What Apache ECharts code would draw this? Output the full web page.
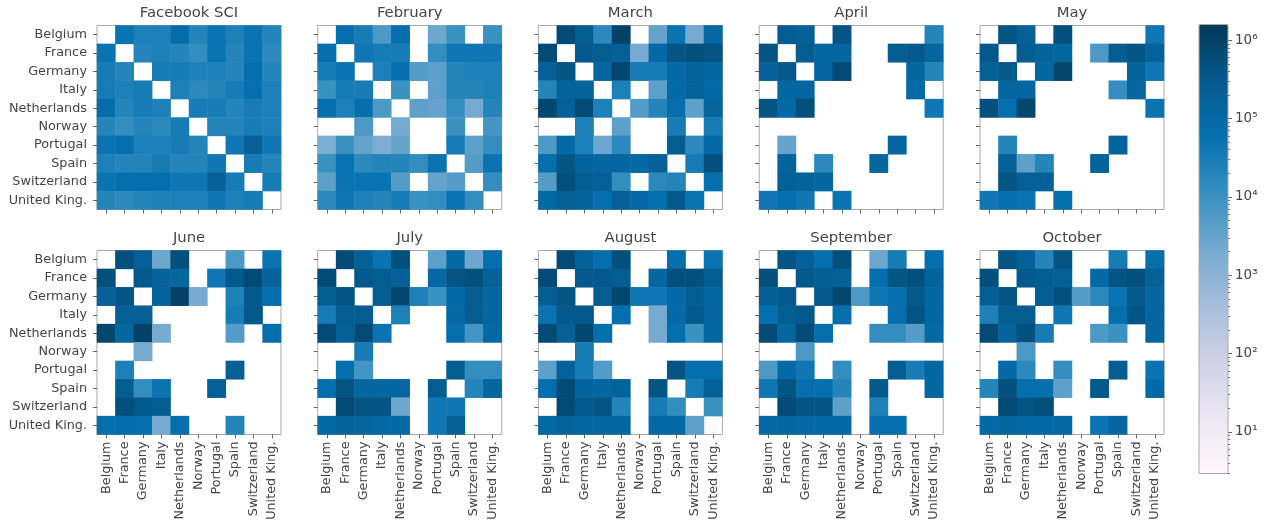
<!DOCTYPE html>
<html>
<head>
<meta charset="utf-8">
<style>html,body{margin:0;padding:0;background:#fff}#c{width:1270px;height:527px}</style>
<script src="https://cdn.jsdelivr.net/npm/echarts@6/dist/echarts.min.js"></script>
</head>
<body>
<div id="c"></div>
<script>
// All cell values are log10 of the count; _ = empty cell
const _ = null;
const countries = ['Belgium','France','Germany','Italy','Netherlands','Norway','Portugal','Spain','Switzerland','United King.'];
const panelTitles = ['Facebook SCI','February','March','April','May','June','July','August','September','October'];

const sci = [
[_,4.7,4.4,4.4,4.9,4.3,4.7,4.4,4.7,4.3],
[4.7,_,4.3,4.4,4.3,4.1,4.7,4.3,4.7,4.2],
[4.5,4.3,_,4.5,4.5,4.4,4.4,4.3,4.8,4.3],
[4.5,4.4,4.5,_,4.4,4.2,4.3,4.5,4.8,4.4],
[4.9,4.3,4.5,4.4,_,4.5,4.5,4.3,4.5,4.4],
[4.3,4.1,4.3,4.2,4.5,_,4.3,4.3,4.5,4.4],
[4.7,4.8,4.4,4.4,4.5,4.3,_,4.6,5.3,4.6],
[4.4,4.3,4.3,4.5,4.3,4.3,4.6,_,4.5,4.3],
[4.7,4.8,4.8,4.8,4.6,4.6,5.3,4.5,_,4.5],
[4.3,4.2,4.3,4.4,4.4,4.4,4.6,4.4,4.5,_]];
const february = [
[_,4.8,4.5,3.8,4.8,_,3.4,4.0,_,4.0],
[4.8,_,4.6,4.5,4.5,_,4.1,4.6,4.6,4.6],
[4.5,4.7,_,4.4,4.8,3.7,3.6,4.3,4.4,4.4],
[4.0,4.5,4.5,_,4.0,_,3.6,4.3,4.3,4.4],
[4.8,4.4,4.8,3.8,_,3.6,3.5,4.1,3.3,4.3],
[_,_,3.8,_,3.3,_,_,4.0,_,3.9],
[3.2,4.0,3.5,3.2,3.5,_,_,4.5,3.6,4.1],
[4.0,4.7,4.2,4.3,4.3,4.1,4.7,_,3.7,4.7],
[3.6,4.7,4.7,4.7,3.7,_,3.5,3.7,_,4.1],
[4.2,4.6,4.4,4.3,4.5,4.0,4.1,4.7,4.1,_]];
const march = [
[_,5.8,5.4,4.2,6.0,_,3.5,4.7,3.3,5.0],
[5.8,_,5.5,5.4,5.3,3.3,5.0,5.6,5.7,5.6],
[5.3,5.6,_,5.1,5.9,4.5,4.5,5.0,5.2,5.1],
[4.3,5.2,5.2,_,4.4,_,3.6,5.0,5.2,5.0],
[5.9,5.3,5.8,4.4,_,3.7,4.3,4.8,3.6,5.1],
[_,_,4.4,_,3.6,_,_,4.5,_,4.5],
[3.8,5.0,4.4,3.4,4.2,_,_,5.4,4.2,5.0],
[4.8,5.6,5.2,5.1,5.1,5.0,5.3,_,4.5,5.7],
[3.7,5.7,5.4,5.3,4.1,_,4.2,4.3,_,4.8],
[5.0,5.3,5.2,4.8,5.3,5.0,4.8,5.5,4.7,_]];
const april = [
[_,5.4,5.3,_,5.6,_,_,_,_,4.3],
[5.6,_,5.4,5.1,5.1,_,_,5.4,5.5,5.1],
[5.3,5.5,_,5.1,5.8,_,_,_,5.1,4.3],
[_,5.1,5.1,_,_,_,_,_,5.0,_],
[5.6,5.0,5.7,_,_,_,_,_,_,4.6],
[_,_,_,_,_,_,_,_,_,_],
[_,3.5,_,_,_,_,_,5.1,_,_],
[_,5.2,_,4.2,_,_,5.1,_,_,_],
[_,5.3,5.2,5.1,_,_,_,_,_,_],
[4.6,4.8,4.6,_,4.7,_,_,_,_,_]];
const may = [
[_,5.6,5.3,_,5.7,_,_,_,_,4.6],
[5.5,_,5.4,5.2,5.1,_,3.8,5.4,5.6,5.2],
[5.3,5.5,_,5.1,5.9,_,_,_,5.2,4.6],
[_,5.1,5.1,_,_,_,_,4.1,5.1,_],
[5.7,4.8,5.9,_,_,_,_,_,_,4.7],
[_,_,_,_,_,_,_,_,_,_],
[_,4.3,_,_,_,_,_,5.2,_,_],
[_,5.3,3.6,4.3,_,_,5.2,_,_,_],
[_,5.6,5.3,5.3,_,_,_,_,_,_],
[4.6,4.8,4.7,_,4.8,_,_,_,_,_]];
const june = [
[_,5.7,5.3,3.4,5.7,_,_,3.8,_,4.7],
[5.7,_,5.5,5.2,5.1,_,4.6,5.5,5.8,5.2],
[5.3,5.6,_,5.2,6.0,3.3,_,4.4,5.5,4.8],
[_,5.3,5.3,_,_,_,_,4.5,5.5,_],
[5.9,5.1,6.0,3.3,_,_,_,3.7,_,4.8],
[_,_,3.3,_,_,_,_,_,_,_],
[_,4.4,_,_,_,_,_,5.3,_,_],
[_,5.4,4.1,4.7,_,_,5.3,_,_,_],
[_,5.7,5.5,5.4,_,_,_,_,_,_],
[4.8,4.9,4.8,3.3,4.8,_,_,4.3,_,_]];
const july = [
[_,5.8,5.3,4.7,5.7,_,3.6,5.0,3.4,4.8],
[5.8,_,5.5,5.4,5.3,_,5.0,5.6,5.7,5.3],
[5.4,5.6,_,5.4,5.9,4.4,4.0,5.0,5.4,5.1],
[4.5,5.4,5.4,_,4.4,_,_,5.0,5.4,5.1],
[5.8,5.3,5.8,4.7,_,_,_,4.8,3.9,5.0],
[_,_,4.5,_,_,_,_,_,_,_],
[_,4.8,3.9,_,_,_,_,5.4,4.1,4.1],
[4.8,5.6,5.1,5.1,5.1,_,5.4,_,4.3,5.1],
[_,5.8,5.6,5.6,3.4,_,4.6,4.6,_,_],
[5.0,5.2,5.1,5.0,5.0,_,4.6,5.3,_,_]];
const august = [
[_,5.8,5.3,4.8,5.7,_,_,4.8,_,4.7],
[5.8,_,5.5,5.5,5.4,_,5.1,5.7,5.7,5.4],
[5.4,5.6,_,5.4,5.9,4.6,4.6,5.0,5.4,5.1],
[4.7,5.5,5.5,_,4.8,_,3.3,5.0,5.5,5.1],
[5.8,5.3,5.9,4.8,_,_,3.3,4.8,4.0,5.1],
[_,_,4.5,_,_,_,_,_,_,_],
[3.6,5.2,4.5,3.7,_,_,_,5.6,4.8,4.8],
[4.8,5.8,5.2,5.1,5.2,_,5.6,_,4.5,5.3],
[_,5.8,5.5,5.6,4.3,_,4.5,4.1,_,4.0],
[5.0,5.2,5.1,5.1,5.1,_,5.0,5.0,3.6,_]];
const september = [
[_,5.6,5.3,4.8,5.7,_,3.4,4.5,_,4.8],
[5.7,_,5.5,5.4,5.3,_,4.8,5.6,5.7,5.2],
[5.4,5.5,_,5.5,5.9,3.8,4.6,4.8,5.5,5.1],
[4.8,5.4,5.5,_,4.8,_,_,4.8,5.6,5.1],
[5.8,5.1,5.8,4.8,_,_,4.1,4.1,3.7,5.0],
[_,_,3.8,_,_,_,_,_,_,_],
[3.8,5.0,4.6,_,4.1,_,_,5.4,4.5,5.1],
[4.6,5.6,4.8,4.8,4.3,_,5.5,_,_,5.1],
[_,5.8,5.6,5.6,3.6,_,4.4,_,_,_],
[5.0,5.1,5.0,5.0,5.0,_,4.8,4.8,_,_]];
const october = [
[_,5.6,5.3,4.3,5.6,_,_,4.5,_,4.8],
[5.7,_,5.5,5.4,5.3,_,5.0,5.6,5.7,5.3],
[5.4,5.6,_,5.4,5.7,3.7,4.2,4.7,5.5,5.1],
[4.4,5.4,5.4,_,4.6,_,_,4.8,5.6,5.1],
[5.8,5.2,5.7,4.5,_,_,3.8,4.0,_,5.1],
[_,_,3.8,_,_,_,_,_,_,_],
[_,5.0,4.2,_,4.1,_,_,5.4,_,4.7],
[4.3,5.7,4.8,4.8,3.6,_,5.5,_,_,5.0],
[_,5.8,5.6,5.7,_,_,_,_,_,_],
[5.0,5.1,5.0,5.0,5.0,_,4.7,5.1,_,_]];
const panels = [sci,february,march,april,may,june,july,august,september,october];

const colorStops = ['#fff7fb','#ece7f2','#d0d1e6','#a6bddb','#74a9cf','#3690c0','#0570b0','#045a8d','#023858'];
const majorTicks = [10,100,1000,10000,100000,1000000];
const minorTicks = [3,4,5,6,7,8,9,20,30,40,50,60,70,80,90,200,300,400,500,600,700,800,900,2000,3000,4000,5000,6000,7000,8000,9000,20000,30000,40000,50000,60000,70000,80000,90000,200000,300000,400000,500000,600000,700000,800000,900000];
const logMin = 0.47, logMax = 6.2;

const textColor = '#444', font = 'DejaVu Sans', spine = '#aaa', tickColor = '#666';
const lefts = [97,317.7,538.4,759.2,980], tops = [25.5,250.5], titleTops = [6,230.5], size = 184;
const sup = {1:'¹',2:'²',3:'³',4:'⁴',5:'⁵',6:'⁶'};

const grid = [], xAxis = [], yAxis = [], series = [], title = [];
panels.forEach((m,i) => {
  const col = i % 5, row = Math.floor(i / 5);
  grid.push({left:lefts[col],top:tops[row],width:size,height:size,show:true,borderColor:spine,borderWidth:1,backgroundColor:'#fff'});
  title.push({text:panelTitles[i],left:lefts[col]+size/2,top:titleTops[row],textAlign:'center',padding:0,
    textStyle:{color:textColor,fontFamily:font,fontSize:14.8,fontWeight:'normal'}});
  xAxis.push({type:'category',gridIndex:i,data:countries,
    axisLine:{show:false},splitLine:{show:false},splitArea:{show:false},
    axisTick:{show:true,alignWithLabel:true,length:4,lineStyle:{color:tickColor}},
    axisLabel:{show:row===1,rotate:90,interval:0,margin:7,color:textColor,fontFamily:font,fontSize:12.8}});
  yAxis.push({type:'category',gridIndex:i,data:countries,inverse:true,
    axisLine:{show:false},splitLine:{show:false},splitArea:{show:false},
    axisTick:{show:true,alignWithLabel:true,length:4,lineStyle:{color:tickColor}},
    axisLabel:{show:col===0,interval:0,margin:10,color:textColor,fontFamily:font,fontSize:12.8}});
  const data = [];
  m.forEach((r,y) => r.forEach((v,x) => { if (v !== null) data.push([x,y,v]); }));
  series.push({type:'heatmap',xAxisIndex:i,yAxisIndex:i,data,progressive:0,animation:false,emphasis:{disabled:true}});
});

// colour bar frame + log axes
const barLeft = 1199, barTop = 24.5, barW = 29, barH = 449;
grid.push({left:barLeft,top:barTop,width:barW,height:barH,show:true,borderColor:spine,borderWidth:1,backgroundColor:'transparent',z:5});
xAxis.push({type:'category',gridIndex:10,data:['c'],show:false});
const logExtent = {min:Math.pow(10,logMin),max:Math.pow(10,logMax)};
yAxis.push({type:'log',gridIndex:10,position:'right',min:logExtent.min,max:logExtent.max,logBase:10,
  axisLine:{show:false},splitLine:{show:false},minorTick:{show:false},
  axisTick:{show:true,length:4,lineStyle:{color:tickColor},customValues:majorTicks},
  axisLabel:{show:true,margin:7,color:textColor,fontFamily:font,fontSize:13.5,customValues:majorTicks,
    formatter:v => '10' + sup[Math.round(Math.log10(v))]}});
yAxis.push({type:'log',gridIndex:10,position:'right',min:logExtent.min,max:logExtent.max,logBase:10,
  axisLine:{show:false},splitLine:{show:false},minorTick:{show:false},
  axisTick:{show:true,length:2,lineStyle:{color:tickColor},customValues:minorTicks},
  axisLabel:{show:false}});

const chart = echarts.init(document.getElementById('c'));
chart.setOption({
  animation:false,backgroundColor:'#fff',title,grid,xAxis,yAxis,series,
  visualMap:{type:'continuous',min:logMin,max:logMax,dimension:2,seriesIndex:series.map((s,i)=>i),
    left:barLeft,top:barTop,itemWidth:barW,itemHeight:barH,text:null,showLabel:false,calculable:false,hoverLink:false,
    inRange:{color:colorStops},orient:'vertical',padding:0,textStyle:{color:'rgba(0,0,0,0)',fontSize:1}}
});
</script>
</body>
</html>
